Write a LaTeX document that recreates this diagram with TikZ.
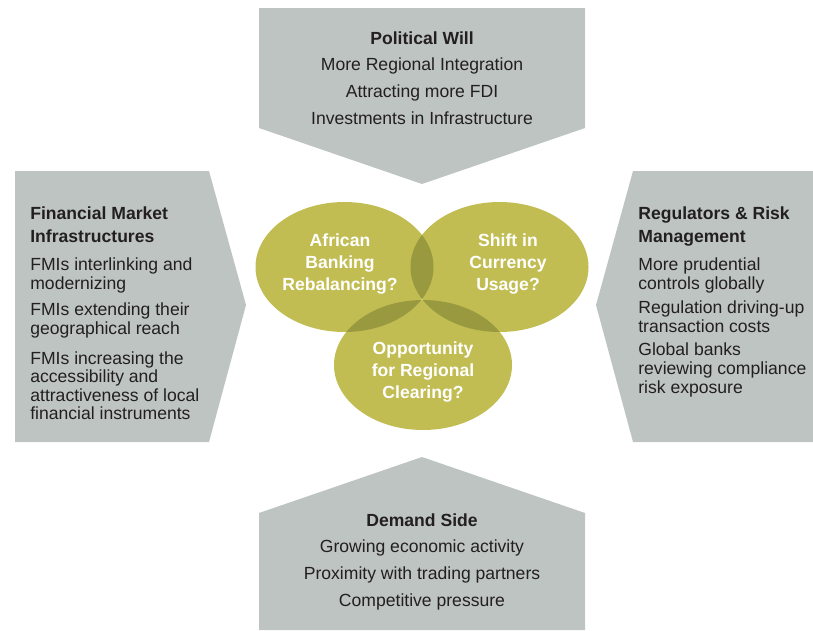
\documentclass[tikz,border=0pt]{standalone}
\usepackage{fontspec}
\setmainfont{Liberation Sans}
\usepackage{xcolor}
\usetikzlibrary{positioning}
\definecolor{boxgray}{HTML}{BDC4C2}
\definecolor{bubble}{HTML}{C1BD52}
\definecolor{bubbledark}{HTML}{999A40}
\definecolor{ink}{HTML}{231F20}

\begin{document}
\begin{tikzpicture}[
    box/.style={fill=boxgray},
    sidetext/.style={inner sep=0pt, text=ink, align=left, font=\fontsize{10}{10.6}\selectfont},
    midtext/.style={inner sep=0pt, text=ink, align=center, font=\fontsize{10}{15.3}\selectfont},
    bubbletext/.style={inner sep=0pt, text=white, align=center, font=\bfseries\fontsize{10}{12.5}\selectfont}
]
    \useasboundingbox (0,0) rectangle (16.26,12.6);

    % Top arrow - political will
    \fill[box] (5.18,12.44) -- (11.7,12.44) -- (11.7,10.04) -- (8.44,8.92) -- (5.18,10.04) -- cycle;
    \node[midtext, anchor=north] (will) at (8.44,11.98)
        {\textbf{Political Will}\\ More Regional Integration\\ Attracting more FDI\\ Investments in Infrastructure};

    % Bottom arrow - demand side
    \fill[box] (5.18,0) -- (11.7,0) -- (11.7,2.34) -- (8.44,3.46) -- (5.18,2.34) -- cycle;
    \node[midtext, anchor=north] (demand) at (8.44,2.34)
        {\textbf{Demand Side}\\ Growing economic activity\\ Proximity with trading partners\\ Competitive pressure};

    % Left arrow - market infrastructures
    \fill[box] (0.3,9.18) -- (4.18,9.18) -- (4.92,6.5) -- (4.18,3.76) -- (0.3,3.76) -- cycle;
    \node[sidetext, anchor=north west] (fmi) at (0.6,8.48)
        {\textbf{Financial Market}\\[3pt] \textbf{Infrastructures}\\[5.3pt]
         FMIs interlinking and\\ modernizing\\[4.4pt]
         FMIs extending their\\ geographical reach\\[6.2pt]
         FMIs increasing the\\ accessibility and\\ attractiveness of local\\ financial instruments};

    % Right arrow - regulators
    \fill[box] (16.26,9.18) -- (12.66,9.18) -- (11.92,6.5) -- (12.66,3.76) -- (16.26,3.76) -- cycle;
    \node[sidetext, anchor=north west] (reg) at (12.76,8.48)
        {\textbf{Regulators \& Risk}\\[3pt] \textbf{Management}\\[5.3pt]
         More prudential\\ controls globally\\[3pt]
         Regulation driving-up\\ transaction costs\\[3pt]
         Global banks\\ reviewing compliance\\ risk exposure};

    % Three bubbles in the middle
    \coordinate (lc) at (6.89,7.26);
    \coordinate (rc) at (9.99,7.26);
    \coordinate (bc) at (8.46,5.3);
    \foreach \c in {lc,rc,bc}
        \fill[bubble] (\c) ellipse (1.78cm and 1.3cm);

    % darker where two bubbles overlap
    \begin{scope}
        \clip (lc) ellipse (1.78cm and 1.3cm);
        \fill[bubbledark] (rc) ellipse (1.78cm and 1.3cm);
        \fill[bubbledark] (bc) ellipse (1.78cm and 1.3cm);
    \end{scope}
    \begin{scope}
        \clip (rc) ellipse (1.78cm and 1.3cm);
        \fill[bubbledark] (bc) ellipse (1.78cm and 1.3cm);
    \end{scope}

    \node[bubbletext] (banking) at (6.80,7.32) {African\\ Banking\\ Rebalancing?};
    \node[bubbletext] (currency) at (10.16,7.32) {Shift in\\ Currency\\ Usage?};
    \node[bubbletext] (clearing) at (8.46,5.16) {Opportunity\\ for Regional\\ Clearing?};
\end{tikzpicture}
\end{document}
